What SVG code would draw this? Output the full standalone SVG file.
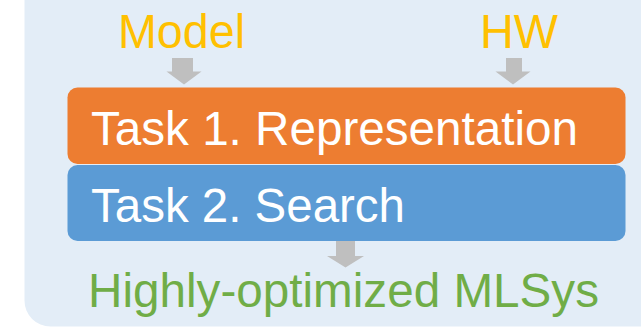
<svg xmlns="http://www.w3.org/2000/svg" width="641" height="328" viewBox="0 0 641 328">
<style>
.t{font-family:"Liberation Sans",Arial,sans-serif;font-size:48px}
.in{fill:#FFC000}
.task{fill:#FFFFFF}
.out{fill:#70AD47}
.arr{fill:#BFBFBF}
</style>
<rect id="panel" x="24.5" y="-40" width="700" height="366.5" rx="26" fill="#E3EDF7"/>
<g id="model"><text class="t in" x="118" y="48" textLength="127" lengthAdjust="spacingAndGlyphs">Model</text></g>
<g id="hw"><text class="t in" x="480" y="48" textLength="78" lengthAdjust="spacingAndGlyphs">HW</text></g>
<g id="task1">
<rect x="67.5" y="87.5" width="558" height="76.5" rx="10" fill="#ED7D31"/>
<text class="t task" x="91" y="144.5" textLength="487" lengthAdjust="spacingAndGlyphs">Task 1. Representation</text>
</g>
<g id="task2">
<rect x="67.5" y="165" width="558" height="76" rx="10" fill="#5B9BD5"/>
<text class="t task" x="91" y="221.5" textLength="314" lengthAdjust="spacingAndGlyphs">Task 2. Search</text>
</g>
<g id="output"><text class="t out" x="88" y="306.5" textLength="511" lengthAdjust="spacingAndGlyphs">Highly-optimized MLSys</text></g>
<g id="connectors">
<polygon class="arr" points="172,58 193,58 193,71.5 201.5,71.5 184,84.5 166.5,71.5 172,71.5"/>
<polygon class="arr" points="506,58 522,58 522,71.5 530.5,71.5 513,84.5 495.5,71.5 506,71.5"/>
<polygon class="arr" points="336,241 355,241 355,256 364,256 345.5,267.5 327,256 336,256"/>
</g>
</svg>
